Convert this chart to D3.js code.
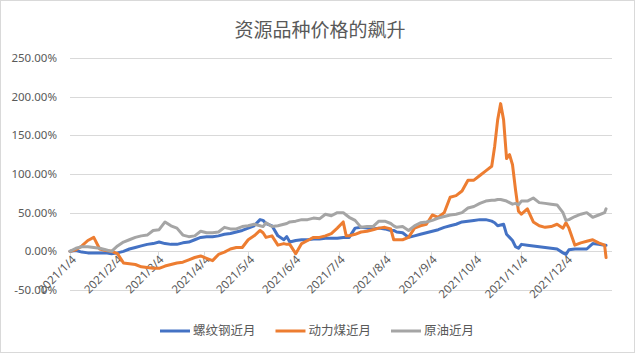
<!DOCTYPE html>
<html>
<head>
<meta charset="utf-8">
<script src="https://cdn.jsdelivr.net/npm/d3@7"></script>
<style>
  body { margin: 0; background: #fff; }
  svg { display: block; }
</style>
</head>
<body>
<div id="chart"></div>
<script>
// Chart data: day offsets from 2021/1/4, values in %
const dayOffsets = [0, 4, 8, 12, 16, 20, 24, 28, 32, 36, 40, 44, 48, 52, 56, 60, 64, 68, 72, 76,
  80, 84, 88, 92, 96, 100, 104, 108, 112, 116, 120, 124, 128, 130, 132, 136, 140, 144, 146, 148,
  152, 156, 160, 164, 168, 172, 176, 180, 184, 186, 188, 192, 196, 200, 204, 208, 212, 216, 218, 220,
  224, 228, 232, 236, 240, 244, 248, 252, 256, 260, 264, 268, 272, 276, 280, 284, 286, 288, 290, 292,
  294, 296, 298, 300, 302, 304, 308, 312, 316, 320, 324, 328, 332, 334, 336, 340, 344, 348, 352, 356,
  360, 361];

const rebar = [0, 1, -1, -2, -2, -2, -2, -3, -2, 0, 3, 5, 7, 9, 10, 12, 10, 9, 9, 11,
  12, 15, 18, 19, 19, 20, 22, 23, 25, 27, 30, 33, 41, 40, 36, 33, 20, 15, 19, 12,
  14, 15, 15, 16, 16, 17, 17, 17, 18, 18, 18, 30, 31, 30, 29, 30, 29, 27, 27, 25,
  24, 18, 20, 22, 24, 26, 28, 31, 33, 35, 38, 39, 40, 41, 41, 39, 37, 33, 34, 35,
  22, 18, 14, 6, 4, 9, 8, 7, 6, 5, 4, 3, -2, -4, 2, 3, 3, 3, 10, 9,
  8, 8];

const coal = [0, 2, 7, 14, 18, 3, 1, 0, -3, -15, -16, -17, -20, -21, -22, -22, -19, -17, -15, -14,
  -11, -8, -6, -9, -12, -4, -1, 3, 5, 5, 15, 20, 27, 24, 18, 20, 8, 10, 9, 9,
  -3, 10, 14, 18, 18, 20, 23, 30, 38, 20, 20, 22, 25, 26, 28, 30, 31, 29, 15, 15,
  15, 18, 30, 33, 35, 47, 44, 50, 70, 72, 78, 92, 92, 98, 104, 110, 136, 170, 191, 170,
  120, 125, 112, 80, 52, 48, 55, 38, 33, 31, 32, 35, 30, 37, 30, 8, 11, 13, 15, 11,
  8, -8];

const crude = [0, 4, 6, 6, 5, 4, 2, 0, 7, 12, 15, 18, 20, 21, 27, 28, 38, 33, 30, 21,
  19, 20, 26, 24, 24, 25, 31, 29, 29, 32, 33, 35, 33, 32, 37, 32, 33, 35, 36, 38,
  39, 41, 41, 43, 42, 48, 46, 50, 50, 47, 44, 40, 31, 32, 32, 39, 39, 36, 33, 31,
  32, 27, 33, 37, 38, 40, 43, 45, 47, 48, 50, 56, 58, 62, 65, 66, 66, 67, 67, 66,
  65, 63, 61, 62, 60, 65, 65, 69, 63, 62, 61, 60, 50, 40, 41, 45, 48, 50, 44, 47,
  50, 55];

const seriesNames = ["螺纹钢近月", "动力煤近月", "原油近月"];
const seriesColors = ["#4472C4", "#ED7D31", "#A5A5A5"];
const yTicks = [-50, 0, 50, 100, 150, 200, 250];
const xTickMonths = [0, 1, 2, 3, 4, 5, 6, 7, 8, 9, 10, 11];

const width = 640;
const height = 355;
const margin = {top: 58, right: 28, bottom: 65, left: 70};

const svg = d3.select("#chart")
    .append("svg")
    .attr("width", width)
    .attr("height", height);

// Chart border
svg.append("rect")
    .attr("x", 0.5).attr("y", 0.5)
    .attr("width", 634).attr("height", 352)
    .attr("fill", "#fff")
    .attr("stroke", "#d9d9d9");

const start = new Date(2021, 0, 4);
const toDate = d => new Date(2021, 0, 4 + d);

const x = d3.scaleTime()
    .domain([start, new Date(2022, 0, 4)])
    .range([margin.left, width - margin.right]);

const y = d3.scaleLinear()
    .domain([-50, 250])
    .range([height - margin.bottom, margin.top]);

// Title
svg.append("text")
    .attr("x", 320).attr("y", 37)
    .attr("text-anchor", "middle")
    .style("font-family", "'Noto Sans CJK SC', sans-serif")
    .style("font-size", "19px")
    .style("fill", "#595959")
    .text("资源品种价格的飙升");

// Gridlines
svg.append("g")
    .selectAll("line")
    .data(yTicks)
    .enter()
    .append("line")
    .attr("x1", margin.left)
    .attr("x2", width - margin.right)
    .attr("y1", d => Math.round(y(d)) + 0.5)
    .attr("y2", d => Math.round(y(d)) + 0.5)
    .attr("stroke", "#d9d9d9");

// Y labels
svg.append("g")
    .selectAll("text")
    .data(yTicks)
    .enter()
    .append("text")
    .attr("x", 57)
    .attr("y", d => y(d))
    .attr("dy", "0.35em")
    .attr("text-anchor", "end")
    .style("font-family", "'Noto Sans', sans-serif")
    .style("font-size", "11.5px")
    .style("fill", "#595959")
    .text(d => d.toFixed(2) + "%");

// X axis at 0%
const tickDates = xTickMonths.map(m => new Date(2021, m, 4));
const y0 = Math.round(y(0)) + 0.5;

svg.append("g")
    .selectAll("line")
    .data(tickDates)
    .enter()
    .append("line")
    .attr("x1", d => Math.round(x(d)) + 0.5)
    .attr("x2", d => Math.round(x(d)) + 0.5)
    .attr("y1", y0)
    .attr("y2", y0 + 4)
    .attr("stroke", "#d9d9d9");

const fmt = d => `${d.getFullYear()}/${d.getMonth() + 1}/${d.getDate()}`;

svg.append("g")
    .selectAll("text")
    .data(tickDates)
    .enter()
    .append("text")
    .attr("transform", d => `translate(${x(d) + 4},${y0 + 6}) rotate(-45)`)
    .attr("text-anchor", "end")
    .attr("dy", "0.35em")
    .style("font-family", "'Noto Sans', sans-serif")
    .style("font-size", "11.5px")
    .style("fill", "#595959")
    .text(fmt);

// Lines
const allSeries = [rebar, coal, crude];
const line = d3.line()
    .x((d, i) => x(toDate(dayOffsets[i])))
    .y(d => y(d));

allSeries.forEach((s, k) => {
    svg.append("path")
        .datum(s)
        .attr("fill", "none")
        .attr("stroke", seriesColors[k])
        .attr("stroke-width", 3)
        .attr("stroke-linejoin", "round")
        .attr("stroke-linecap", "round")
        .attr("d", line);
});

// Legend
const legend = svg.append("g");
let lx = 0;
seriesNames.forEach((name, k) => {
    const item = legend.append("g").attr("transform", `translate(${lx},0)`);
    item.append("line")
        .attr("x1", 0).attr("x2", 30)
        .attr("y1", 0).attr("y2", 0)
        .attr("stroke", seriesColors[k])
        .attr("stroke-width", 3);
    const t = item.append("text")
        .attr("x", 33)
        .attr("dy", "0.35em")
        .style("font-family", "'Noto Sans CJK SC', sans-serif")
        .style("font-size", "12.5px")
        .style("fill", "#595959")
        .text(name);
    lx += 33 + t.node().getComputedTextLength() + 20;
});
const legendWidth = lx - 20;
legend.attr("transform", `translate(${(width - 6 - legendWidth) / 2},331)`);
</script>
</body>
</html>
